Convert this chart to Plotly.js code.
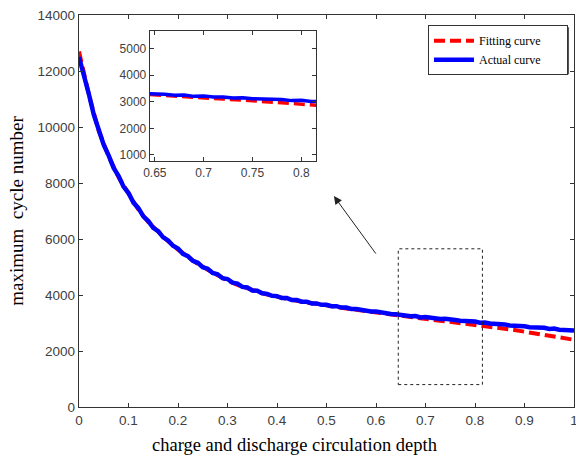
<!DOCTYPE html>
<html>
<head>
<meta charset="utf-8">
<script src="https://cdn.plot.ly/plotly-3.0.1.min.js"></script>
<style>html,body{margin:0;padding:0;background:#fff;}#chart{width:576px;height:457px;}</style>
</head>
<body>
<div id="chart"></div>
<script>
// Fitting curve (red dashed), sampled every 0.02
const fitX = [0,0.02,0.04,0.06,0.08,0.10,0.12,0.14,0.16,0.18,0.20,0.22,0.24,0.26,0.28,0.30,0.32,0.34,0.36,0.38,0.40,0.42,0.44,0.46,0.48,0.50,0.52,0.54,0.56,0.58,0.60,0.62,0.64,0.66,0.68,0.70,0.72,0.74,0.76,0.78,0.80,0.82,0.84,0.86,0.88,0.90,0.92,0.94,0.96,0.98,1.00];
const fitY = [12700,11150,9850,8950,8200,7600,7050,6600,6250,5920,5620,5350,5110,4900,4700,4520,4360,4230,4120,4020,3930,3860,3790,3730,3670,3620,3570,3520,3470,3420,3370,3320,3270,3220,3180,3140,3100,3060,3020,2980,2940,2900,2850,2800,2750,2690,2630,2570,2510,2450,2400];

// Actual curve (blue), sampled every 0.01
const actX = [0,0.01,0.02,0.03,0.04,0.05,0.06,0.07,0.08,0.09,0.10,0.11,0.12,0.13,0.14,0.15,0.16,0.17,0.18,0.19,0.20,0.21,0.22,0.23,0.24,0.25,0.26,0.27,0.28,0.29,0.30,0.31,0.32,0.33,0.34,0.35,0.36,0.37,0.38,0.39,0.40,0.41,0.42,0.43,0.44,0.45,0.46,0.47,0.48,0.49,0.50,0.51,0.52,0.53,0.54,0.55,0.56,0.57,0.58,0.59,0.60,0.61,0.62,0.63,0.64,0.65,0.66,0.67,0.68,0.69,0.70,0.71,0.72,0.73,0.74,0.75,0.76,0.77,0.78,0.79,0.80,0.81,0.82,0.83,0.84,0.85,0.86,0.87,0.88,0.89,0.90,0.91,0.92,0.93,0.94,0.95,0.96,0.97,0.98,0.99,1.00];
const actY = [12500,11880,11170,10430,9900,9360,8980,8540,8250,7870,7640,7300,7100,6810,6640,6400,6280,6060,5950,5760,5660,5470,5390,5220,5150,4990,4940,4790,4740,4600,4570,4440,4410,4290,4270,4160,4150,4060,4040,3970,3960,3890,3890,3820,3820,3760,3760,3700,3700,3650,3650,3600,3600,3550,3550,3500,3500,3460,3450,3410,3410,3370,3360,3320,3310,3280,3280,3240,3250,3200,3210,3180,3180,3140,3150,3110,3110,3080,3080,3040,3050,3010,3020,2980,2980,2950,2950,2910,2910,2880,2880,2850,2850,2820,2830,2790,2800,2760,2770,2740,2730];

// Tick values
const insetXTicks = [0.65,0.7,0.75,0.8];
const insetXLabels = ['0.65','0.7','0.75','0.8'];
const insetYTicks = [1000,2000,3000,4000,5000];
const mainXTicks = [0,0.1,0.2,0.3,0.4,0.5,0.6,0.7,0.8,0.9,1];
const mainYTicks = [0,2000,4000,6000,8000,10000,12000,14000];

const red = '#ff0000';
const blue = '#0000ff';
const axisColor = '#333333';
const tickFont = {family: 'Liberation Sans, Arial, sans-serif', size: 13.5, color: '#404040'};
const insetTickFont = {family: 'Liberation Sans, Arial, sans-serif', size: 12, color: '#404040'};
const serif = 'Liberation Serif, Times New Roman, serif';
const pad = '\u00a0\u00a0\u00a0\u00a0\u00a0\u00a0\u00a0';

const traces = [
  {x: fitX, y: fitY, type: 'scatter', mode: 'lines', name: 'Fitting curve' + pad,
   line: {color: red, width: 4, dash: '11px,5px'}, xaxis: 'x', yaxis: 'y'},
  {x: actX, y: actY, type: 'scatter', mode: 'lines', name: 'Actual curve' + pad,
   line: {color: blue, width: 4.5}, xaxis: 'x', yaxis: 'y'},
  {x: fitX, y: fitY, type: 'scatter', mode: 'lines', showlegend: false,
   line: {color: red, width: 3.5, dash: '11px,5px'}, xaxis: 'x2', yaxis: 'y2'},
  {x: actX, y: actY, type: 'scatter', mode: 'lines', showlegend: false,
   line: {color: blue, width: 3.5}, xaxis: 'x2', yaxis: 'y2'}
];

const axCommon = {
  showgrid: false, zeroline: false, showline: true, linecolor: axisColor, linewidth: 1.3,
  mirror: 'ticks', ticks: 'inside', ticklen: 4, tickcolor: axisColor, tickwidth: 1,
  ticklabeloverflow: 'allow'
};

const layout = {
  width: 576, height: 457,
  margin: {l: 79, r: 2, t: 15, b: 50},
  paper_bgcolor: '#ffffff', plot_bgcolor: '#ffffff',
  showlegend: true,
  legend: {x: 0.705, y: 0.974, xanchor: 'left', yanchor: 'top',
    bgcolor: '#ffffff', bordercolor: '#333333', borderwidth: 1,
    font: {family: serif, size: 12, color: '#000000'},
    itemwidth: 40, tracegroupgap: 0},
  xaxis: Object.assign({}, axCommon, {domain: [0, 1], range: [0, 1], tickvals: mainXTicks,
    ticktext: mainXTicks.map(String), tickfont: tickFont}),
  yaxis: Object.assign({}, axCommon, {domain: [0, 1], range: [0, 14000], tickvals: mainYTicks,
    ticktext: mainYTicks.map(String), tickfont: tickFont,
    title: {text: 'maximum  cycle number', font: {family: serif, size: 19, color: '#000'}, standoff: 8}}),
  xaxis2: Object.assign({}, axCommon, {domain: [0.1434, 0.4788], range: [0.645, 0.815], anchor: 'y2',
    tickvals: insetXTicks, ticktext: insetXLabels, tickfont: insetTickFont}),
  yaxis2: Object.assign({}, axCommon, {domain: [0.6276, 0.959], range: [775, 5650], anchor: 'x2',
    tickvals: insetYTicks, ticktext: insetYTicks.map(String), tickfont: insetTickFont}),
  shapes: [
    {type: 'rect', xref: 'x', yref: 'y', x0: 0.645, x1: 0.815, y0: 800, y1: 5650,
     line: {color: '#222', width: 1, dash: 'dot'}, fillcolor: 'rgba(0,0,0,0)'},
    {type: 'rect', xref: 'paper', yref: 'paper', x0: 0.709, x1: 0.990, y0: 0.849, y1: 0.969,
     line: {width: 0}, fillcolor: '#555555', layer: 'above'}
  ],
  annotations: [
    {xref: 'paper', yref: 'paper', x: 0.436, y: -0.097, yanchor: 'middle', showarrow: false,
     text: 'charge and discharge circulation depth', font: {family: serif, size: 18.5, color: '#000'}},
    {xref: 'paper', yref: 'paper', x: 0.515, y: 0.538, text: '', showarrow: true,
     ax: 43, ay: 59, arrowhead: 2, arrowsize: 1.6, arrowwidth: 1, arrowcolor: '#222'}
  ]
};

Plotly.newPlot('chart', traces, layout, {displayModeBar: false, staticPlot: true});
</script>
</body>
</html>
